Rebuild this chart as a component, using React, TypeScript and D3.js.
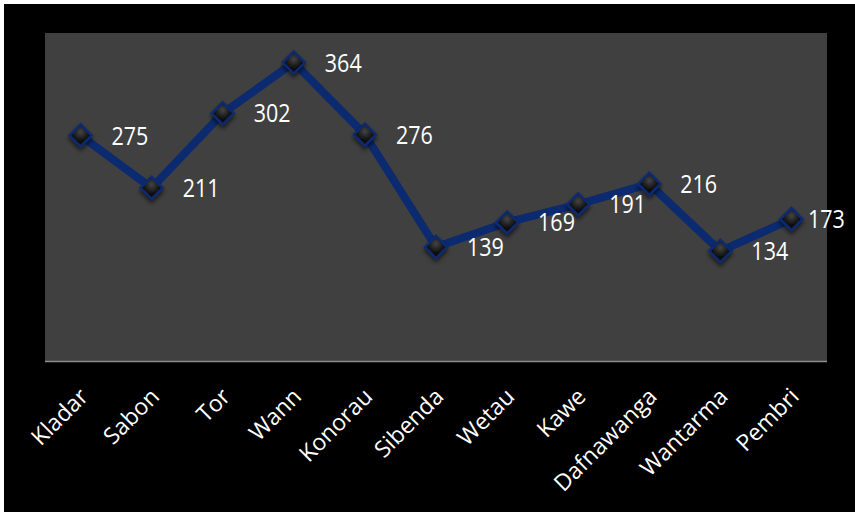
import React from "react";
import * as d3 from "d3";

const categories = ["Kladar", "Sabon", "Tor", "Wann", "Konorau", "Sibenda", "Wetau", "Kawe", "Dafnawanga", "Wantarma", "Pembri"];
const values = [275, 211, 302, 364, 276, 139, 169, 191, 216, 134, 173];

export default function App() {
  const W = 855, H = 512;
  const left = 45, right = 827, top = 33, bottom = 361;
  const x = d3.scaleBand<string>().domain(categories).range([left, right]);
  const y = d3.scaleLinear().domain([0, 400]).range([bottom, top]);
  const cx = (c: string) => (x(c) as number) + x.bandwidth() / 2;
  const line = d3.line<number>().x((_, i) => cx(categories[i])).y((v) => y(v));
  const font = "'Open Sans', sans-serif";
  const ds = 11;
  const labelW = 38;
  return (
    <svg width={W} height={H} style={{ position: "absolute", left: 0, top: 0 }}>
      <defs>
        <radialGradient id="mk" cx="50%" cy="35%" r="65%">
          <stop offset="0%" stopColor="#444" />
          <stop offset="60%" stopColor="#111" />
          <stop offset="100%" stopColor="#000" />
        </radialGradient>
        <filter id="sh" x="-50%" y="-50%" width="200%" height="200%">
          <feGaussianBlur in="SourceAlpha" stdDeviation="2" />
          <feOffset dx="0" dy="3" result="b" />
          <feComponentTransfer><feFuncA type="linear" slope="0.6" /></feComponentTransfer>
          <feMerge><feMergeNode /><feMergeNode in="SourceGraphic" /></feMerge>
        </filter>
      </defs>
      <rect x={0} y={0} width={W} height={H} fill="#fff" />
      <rect x={4} y={4} width={W - 4} height={H - 4} fill="#000" />
      <rect x={left} y={top} width={right - left} height={bottom - top} fill="#404040" />
      <line x1={left} x2={right} y1={bottom + 0.5} y2={bottom + 0.5} stroke="#8c8c8c" strokeWidth={1.5} />
      <path d={line(values) || ""} fill="none" stroke="#0b2a6f" strokeWidth={8} strokeLinejoin="round" />
      {values.map((v, i) => {
        const px = cx(categories[i]);
        const py = y(v);
        let lx = px + 31;
        if (lx + labelW > 846) lx = 846 - labelW;
        return (
          <g key={i}>
            <path
              d={`M${px},${py - ds}L${px + ds},${py}L${px},${py + ds}L${px - ds},${py}Z`}
              fill="url(#mk)"
              stroke="#0b2a6f"
              strokeWidth={2.5}
              filter="url(#sh)"
            />
            <text transform={`translate(${lx},${py + 9}) scale(1,1.17)`} fill="#fff" fontSize={21.5}
              fontFamily={font}>{v}</text>
          </g>
        );
      })}
      {categories.map((c) => {
        const px = cx(c) + 9;
        const py = 398;
        return (
          <text key={c} x={px} y={py} fill="#fff" fontSize={23} fontFamily={font} textAnchor="end"
            transform={`rotate(-45 ${px} ${py})`}>{c}</text>
        );
      })}
    </svg>
  );
}
